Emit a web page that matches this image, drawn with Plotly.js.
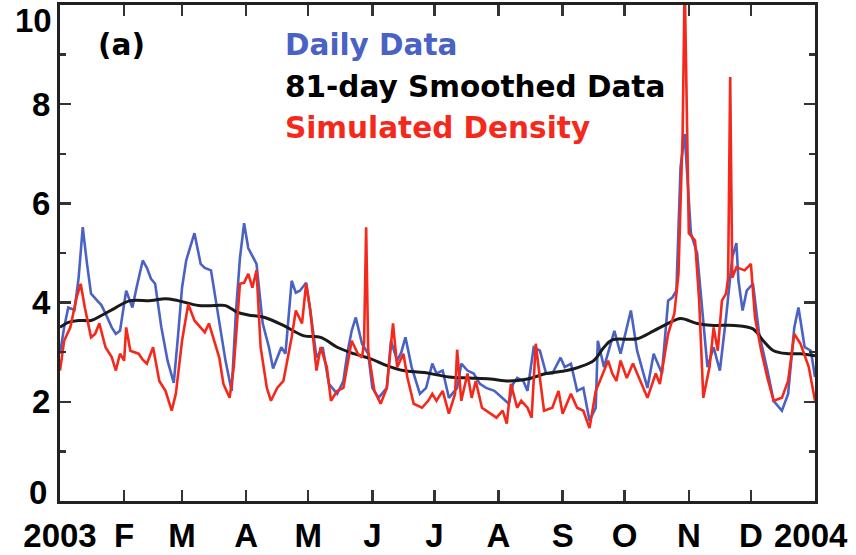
<!DOCTYPE html>
<html>
<head>
<meta charset="utf-8">
<script src="https://cdn.plot.ly/plotly-3.0.1.min.js"></script>
<style>html,body{margin:0;padding:0;background:#fff;}#chart{width:856px;height:555px;}</style>
</head>
<body>
<div id="chart"></div>
<script>
// Month-start tick positions (day of year) and labels
const tickDays = [0,31,59,90,120,151,181,212,243,273,304,334,365];
const tickLabels = ["2003","F","M","A","M","J","J","A","S","O","N","D","2004"];
const yTicks = [0,2,4,6,8,10];
const yTickLabels = ["0","2","4","6","8","10"];

// Daily Data (blue)
const dailyDays = [0,2,4,7,9,11,13,15,18,20,22,25,27,29,32,35,37,40,42,44,46,49,52,55,57,59,61,65,68,70,73,76,78,80,83,85,87,89,91,93,95,98,101,103,105,107,109,112,114,116,119,121,124,127,130,134,137,139,141,143,146,149,151,154,158,160,163,165,167,170,174,177,180,182,185,188,192,194,197,200,203,206,210,214,217,219,221,224,226,229,232,235,238,242,244,247,250,253,256,259,260,263,266,268,271,273,276,279,282,284,287,291,294,296,298,300,302,305,308,310,313,316,319,322,325,327,328,330,332,335,338,342,345,349,352,355,357,360,363,365];
const dailyVals = [2.97,3.5,3.9,3.85,4.5,5.52,4.8,4.18,4.04,3.95,3.78,3.5,3.37,3.43,4.24,3.9,4.3,4.85,4.7,4.48,4.38,3.5,2.83,2.38,3.3,4.3,4.85,5.4,4.78,4.7,4.65,3.84,3.3,2.83,2.22,3.78,4.9,5.6,5.1,4.95,4.78,3.58,3.1,2.67,2.9,3.1,2.97,4.44,4.2,4.24,4.4,3.84,2.89,3.1,2.36,2.16,2.42,3.0,3.43,3.7,3.17,2.97,2.28,2.08,2.28,3.23,2.83,3.0,3.3,2.7,2.16,2.28,2.77,2.57,2.63,2.08,2.28,2.77,2.63,2.57,2.36,2.28,2.22,2.08,1.96,2.36,2.48,2.42,2.22,3.1,3.03,2.57,2.57,2.89,2.7,2.77,2.22,2.28,1.62,1.88,3.23,2.7,3.17,3.43,2.97,3.3,3.84,3.03,2.6,2.28,2.97,2.57,4.04,4.1,4.24,6.73,7.4,5.4,5.0,4.04,2.7,3.1,2.63,3.7,4.91,5.2,4.44,3.84,4.24,4.38,3.37,2.63,2.02,1.82,2.16,3.5,3.9,3.1,3.03,2.5];

// Simulated Density (red)
const simDays = [0,2,5,8,10,12,15,17,19,22,25,27,29,31,32,34,38,40,42,45,48,51,54,56,59,62,65,68,70,72,74,77,79,82,84,87,89,91,93,95,97,100,102,105,108,112,114,117,119,121,124,126,129,131,134,137,141,144,146,147,148,149,152,155,158,161,163,166,168,171,175,178,180,182,185,188,191,192,194,197,199,201,204,208,211,214,216,218,221,223,226,228,230,232,234,238,241,243,247,250,253,256,259,261,265,267,269,271,274,277,280,284,288,290,294,297,299,301,302,303,304,307,309,311,314,316,318,320,322,323,324,325,327,331,334,336,339,342,345,349,352,355,358,362,365];
const simVals = [2.63,3.23,3.5,4.1,4.38,3.9,3.3,3.37,3.58,3.1,2.9,2.63,2.97,2.83,3.5,3.03,2.97,2.85,2.77,3.1,2.42,2.22,1.82,2.16,3.23,3.97,3.64,3.5,3.4,3.58,3.3,2.89,2.36,2.08,2.7,4.38,4.4,4.58,4.3,4.65,3.1,2.28,2.02,2.28,2.42,3.3,3.84,3.58,4.38,3.84,2.63,3.1,2.7,2.02,2.22,2.28,3.23,2.97,2.89,3.2,5.52,3.03,2.22,1.96,2.28,3.58,2.7,2.97,2.48,1.96,1.88,2.02,2.16,2.02,2.22,1.76,2.16,3.05,2.02,2.57,2.08,2.42,1.88,1.76,1.68,1.82,1.56,2.36,1.88,2.02,1.88,1.68,3.17,2.48,1.82,1.88,2.22,1.76,2.16,1.88,1.82,1.47,2.22,2.42,2.83,2.57,2.42,2.83,2.48,2.77,2.48,2.08,2.57,2.36,3.37,3.78,4.58,7.4,10.5,7.4,5.4,5.25,4.04,2.08,2.7,3.5,3.03,4.04,4.18,4.5,8.55,4.5,4.71,4.65,4.78,3.7,3.03,2.48,2.02,2.08,2.42,3.37,3.17,2.7,2.02];

// 81-day Smoothed Data (black)
const smoothDays = [0,4,9,15,20,27,34,44,51,57,67,75,80,86,91,99,108,118,126,134,142,150,158,166,176,188,198,208,217,226,235,245,251,258,263,267,279,287,294,300,308,316,326,335,340,345,352,358,365];
const smoothVals = [3.5,3.6,3.64,3.64,3.74,3.9,4.04,4.04,4.08,4.04,3.94,3.94,3.94,3.8,3.75,3.7,3.54,3.33,3.3,3.1,2.97,2.87,2.73,2.63,2.59,2.5,2.48,2.46,2.42,2.46,2.57,2.63,2.7,2.83,3.1,3.25,3.27,3.43,3.58,3.68,3.58,3.54,3.54,3.47,3.23,3.03,2.97,2.97,2.93];

const seriesNames = ["Daily Data","81-day Smoothed Data","Simulated Density"];
const panelLabel = "(a)";

const BLUE = "#4a62c4", RED = "#f5281c", BLACK = "#1a1a1a";
const FONT = "DejaVu Sans";
const tickFont = {family: "Liberation Sans", size: 33, color: "#000", weight: "bold"};
const textFont = (c) => ({family: FONT, size: 29.5, color: c, weight: "bold"});

const traces = [
  {x: dailyDays, y: dailyVals, type: "scatter", mode: "lines", name: seriesNames[0],
   line: {color: BLUE, width: 2.6}},
  {x: smoothDays, y: smoothVals, type: "scatter", mode: "lines", name: seriesNames[1],
   line: {color: BLACK, width: 3, shape: "spline", smoothing: 1}},
  {x: simDays, y: simVals, type: "scatter", mode: "lines", name: seriesNames[2],
   line: {color: RED, width: 2.6}}
];

const axisCommon = {
  showline: true, linecolor: "#222", linewidth: 3, mirror: "ticks",
  ticks: "inside", ticklen: 11, tickwidth: 2.5, tickcolor: "#333",
  showgrid: false, zeroline: false, ticklabeloverflow: "allow",
  tickfont: tickFont
};

// Edge labels ("0" and "10" on y, "2004" on x) are drawn as annotations so they
// sit where the reference puts them (nudged inward, inside the page).
const lastX = tickLabels.length - 1, lastY = yTickLabels.length - 1;
const xTickText = tickLabels.map((t, i) => i === lastX ? "" : t);
const yTickText = yTickLabels.map((t, i) => (i === 0 || i === lastY) ? "" : t);

const layout = {
  width: 856, height: 555,
  margin: {l: 60, r: 41, t: 5, b: 54},
  paper_bgcolor: "#fff", plot_bgcolor: "#fff",
  showlegend: false,
  xaxis: Object.assign({}, axisCommon, {
    range: [0, 365], tickmode: "array", tickvals: tickDays, ticktext: xTickText,
    ticklabelstandoff: 3
  }),
  yaxis: Object.assign({}, axisCommon, {
    range: [0, 10], tickmode: "array", tickvals: yTicks, ticktext: yTickText,
    minor: {ticks: "inside", tickvals: [1,3,5,7,9], ticklen: 6, tickwidth: 2.5, tickcolor: "#333"},
    ticklabelstandoff: 0
  }),
  annotations: [
    {xref: "paper", yref: "paper", x: -0.008, y: 1, xanchor: "right", yanchor: "top", yshift: 5,
     text: yTickLabels[lastY], showarrow: false, font: tickFont},
    {xref: "paper", yref: "paper", x: -0.014, y: 0, xanchor: "right", yanchor: "middle", yshift: 9,
     text: yTickLabels[0], showarrow: false, font: tickFont},
    {xref: "paper", yref: "paper", x: 1.0464, y: 0, xanchor: "right", yanchor: "middle", yshift: -34,
     text: tickLabels[lastX], showarrow: false, font: tickFont},
    {xref: "paper", yref: "paper", x: 0.048, y: 0.919, xanchor: "left", yanchor: "middle",
     text: panelLabel, showarrow: false, font: textFont("#000")},
    {xref: "paper", yref: "paper", x: 0.296, y: 0.919, xanchor: "left", yanchor: "middle",
     text: seriesNames[0], showarrow: false, font: textFont(BLUE)},
    {xref: "paper", yref: "paper", x: 0.296, y: 0.834, xanchor: "left", yanchor: "middle",
     text: seriesNames[1], showarrow: false, font: textFont("#000")},
    {xref: "paper", yref: "paper", x: 0.296, y: 0.753, xanchor: "left", yanchor: "middle",
     text: seriesNames[2], showarrow: false, font: textFont(RED)}
  ]
};

Plotly.newPlot("chart", traces, layout, {staticPlot: true, displayModeBar: false});
</script>
</body>
</html>
